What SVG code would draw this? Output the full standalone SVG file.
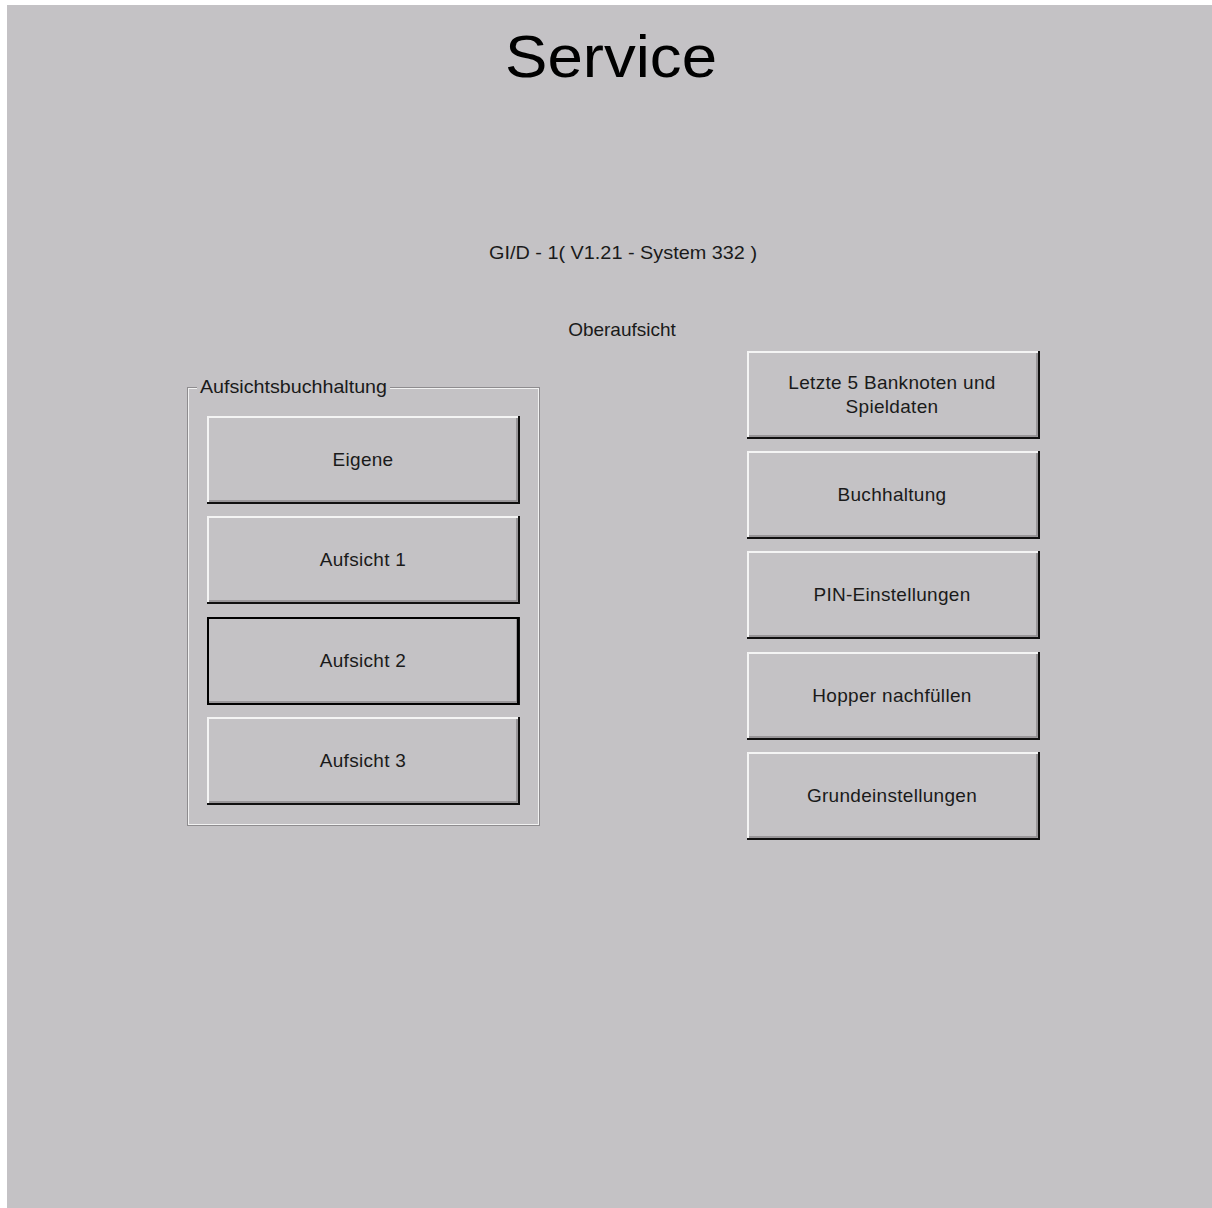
<svg xmlns="http://www.w3.org/2000/svg" width="1212" height="1208" viewBox="0 0 1212 1208">
<style>
text{font-family:"Liberation Sans",Arial,sans-serif;fill:#1a1a1a}
.lbl{font-size:19px;text-anchor:middle;letter-spacing:0.3px}
.face{fill:#c4c2c5}
.hi{stroke:#f4f4f4;stroke-width:2;fill:none}
.sh{stroke:#8a888b;stroke-width:1.5;fill:none}
.dk{stroke:#101010;stroke-width:2;fill:none}
</style>
<defs>
<g id="btnL">
<rect class="face" x="0" y="0" width="312" height="87"/>
<path class="hi" d="M1,86 V1 H311"/>
<path class="sh" d="M2,85 H310 V2"/>
<path class="dk" d="M0,87 H312 V0"/>
</g>
<g id="btnR">
<rect class="face" x="0" y="0" width="292" height="87"/>
<path class="hi" d="M1,86 V1 H291"/>
<path class="sh" d="M2,85 H290 V2"/>
<path class="dk" d="M0,87 H292 V0"/>
</g>
</defs>
<rect x="0" y="0" width="1212" height="1208" fill="#ffffff"/>
<rect x="7" y="5" width="1205" height="1203" fill="#c4c2c5"/>
<text x="505" y="77" font-size="60" textLength="212" lengthAdjust="spacingAndGlyphs" style="fill:#000">Service</text>
<text x="489" y="259" font-size="19" textLength="268" lengthAdjust="spacingAndGlyphs">GI/D - 1( V1.21 - System 332 )</text>
<text x="622" y="336" font-size="19" text-anchor="middle">Oberaufsicht</text>
<g id="group-aufsichtsbuchhaltung">
<rect x="187.5" y="387.5" width="352" height="438" fill="none" stroke="#8e8c8f" stroke-width="1"/>
<rect x="188.5" y="388.5" width="350" height="436" fill="none" stroke="#f2f2f2" stroke-width="1"/>
<rect x="197" y="378" width="193" height="20" fill="#c4c2c5"/>
<text x="200" y="393" font-size="19" textLength="187" lengthAdjust="spacingAndGlyphs">Aufsichtsbuchhaltung</text>
</g>
<g id="btn-eigene"><use href="#btnL" x="207" y="416"/><text class="lbl" x="363" y="466">Eigene</text></g>
<g id="btn-aufsicht1"><use href="#btnL" x="207" y="516"/><text class="lbl" x="363" y="566">Aufsicht 1</text></g>
<g id="btn-aufsicht2"><use href="#btnL" x="207" y="617"/><rect x="208" y="618" width="310" height="86" fill="none" stroke="#000" stroke-width="2"/><text class="lbl" x="363" y="667">Aufsicht 2</text></g>
<g id="btn-aufsicht3"><use href="#btnL" x="207" y="717"/><text class="lbl" x="363" y="767">Aufsicht 3</text></g>
<g id="btn-letzte5"><use href="#btnR" x="747" y="351"/><text class="lbl" x="892" y="389">Letzte 5 Banknoten und</text><text class="lbl" x="892" y="413">Spieldaten</text></g>
<g id="btn-buchhaltung"><use href="#btnR" x="747" y="451"/><text class="lbl" x="892" y="501">Buchhaltung</text></g>
<g id="btn-pin"><use href="#btnR" x="747" y="551"/><text class="lbl" x="892" y="601">PIN-Einstellungen</text></g>
<g id="btn-hopper"><use href="#btnR" x="747" y="652"/><text class="lbl" x="892" y="702">Hopper nachfüllen</text></g>
<g id="btn-grund"><use href="#btnR" x="747" y="752"/><text class="lbl" x="892" y="802">Grundeinstellungen</text></g>
<g id="connectors"/>
</svg>
